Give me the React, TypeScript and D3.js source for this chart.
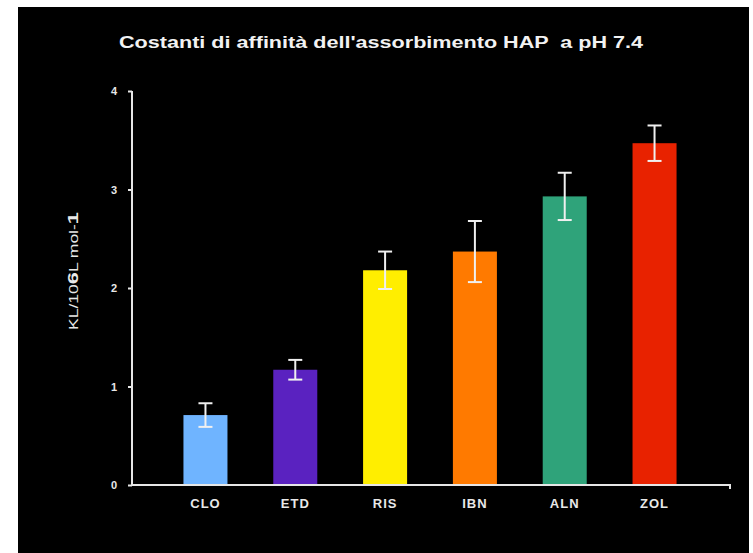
import { useRef, useEffect } from 'react';
import * as d3 from 'd3';

const categories = ['CLO', 'ETD', 'RIS', 'IBN', 'ALN', 'ZOL'];
const values = [0.71, 1.17, 2.18, 2.37, 2.93, 3.47];
const errors = [0.12, 0.1, 0.19, 0.31, 0.24, 0.18];
const colors = ['#6fb4ff', '#5a22c0', '#ffee00', '#ff7a00', '#2fa37a', '#e82200'];
const yTicks = [0, 1, 2, 3, 4];

const FONT = '"Liberation Sans", Arial, sans-serif';
const AXIS = '#e6e6e6';

export default function App() {
  const svgRef = useRef<SVGSVGElement>(null);

  useEffect(() => {
    if (!svgRef.current) return;
    const svg = d3.select(svgRef.current);
    svg.selectAll('*').remove();

    // background panel
    svg.append('rect').attr('width', 753).attr('height', 553).attr('fill', '#ffffff');
    svg.append('rect').attr('x', 18).attr('y', 7).attr('width', 731).attr('height', 546).attr('fill', '#000000');

    const axisX0 = 132;
    const axisX1 = 730;
    const y = d3.scaleLinear().domain([0, 4]).range([485, 91]);
    const x = d3.scaleBand().domain(categories).range([161, 699]).paddingInner(0.51).paddingOuter(0.25);

    // title (the original is slightly stretched horizontally)
    svg.append('text')
      .attr('x', 381).attr('y', 48)
      .attr('text-anchor', 'middle')
      .attr('fill', '#f2f2f2')
      .attr('font-family', FONT)
      .attr('font-weight', 700)
      .attr('font-size', 16)
      .attr('textLength', 524)
      .attr('lengthAdjust', 'spacingAndGlyphs')
      .style('white-space', 'pre')
      .text("Costanti di affinità dell'assorbimento HAP  a pH 7.4");

    // bars
    svg.selectAll('.bar')
      .data(categories)
      .join('rect')
      .attr('x', d => x(d)!)
      .attr('width', x.bandwidth())
      .attr('y', (_, i) => y(values[i]))
      .attr('height', (_, i) => y(0) - y(values[i]))
      .attr('fill', (_, i) => colors[i]);

    // error bars
    const eb = svg.append('g').attr('stroke', '#f0f0f0').attr('stroke-width', 2);
    categories.forEach((c, i) => {
      const cx = x(c)! + x.bandwidth() / 2;
      const top = y(values[i] + errors[i]);
      const bot = y(values[i] - errors[i]);
      eb.append('line').attr('x1', cx).attr('x2', cx).attr('y1', top).attr('y2', bot);
      eb.append('line').attr('x1', cx - 7).attr('x2', cx + 7).attr('y1', top).attr('y2', top);
      eb.append('line').attr('x1', cx - 7).attr('x2', cx + 7).attr('y1', bot).attr('y2', bot);
    });

    // y axis
    const yAxis = svg.append('g').attr('transform', `translate(${axisX0},0)`);
    yAxis.call(d3.axisLeft(y).tickValues(yTicks).tickSize(4).tickPadding(11).tickFormat(d3.format('d')));
    yAxis.select('.domain').attr('stroke', AXIS).attr('stroke-width', 2).attr('d', `M0,${y(4)}V${y(0)}`);
    yAxis.selectAll('.tick line').attr('stroke', AXIS).attr('stroke-width', 2);
    yAxis.selectAll('text')
      .attr('fill', '#e8e8e8')
      .attr('font-family', FONT)
      .attr('font-weight', 700)
      .attr('font-size', 11);

    // x axis
    const xAxis = svg.append('g').attr('transform', `translate(0,${y(0)})`);
    xAxis.call(d3.axisBottom(x).tickSize(0).tickPadding(14));
    xAxis.select('.domain').attr('stroke', AXIS).attr('stroke-width', 2)
      .attr('d', `M${axisX0},0H${axisX1}V4`);
    xAxis.selectAll('text')
      .attr('fill', '#e8e8e8')
      .attr('font-family', FONT)
      .attr('font-weight', 700)
      .attr('font-size', 13)
      .attr('letter-spacing', 1);

    // y label
    const yl = svg.append('text')
      .attr('transform', 'translate(78,271) rotate(-90)')
      .attr('text-anchor', 'middle')
      .attr('fill', '#e8e8e8')
      .attr('font-family', FONT)
      .attr('font-size', 12)
      .attr('textLength', 118)
      .attr('lengthAdjust', 'spacingAndGlyphs');
    yl.append('tspan').text('KL/10');
    yl.append('tspan').attr('font-weight', 700).attr('font-size', 15).text('6');
    yl.append('tspan').text('L mol-');
    yl.append('tspan').attr('font-weight', 700).attr('font-size', 15).text('1');
  }, []);

  return <svg ref={svgRef} width={753} height={553} style={{ position: 'absolute', left: 0, top: 0, display: 'block' }} />;
}
